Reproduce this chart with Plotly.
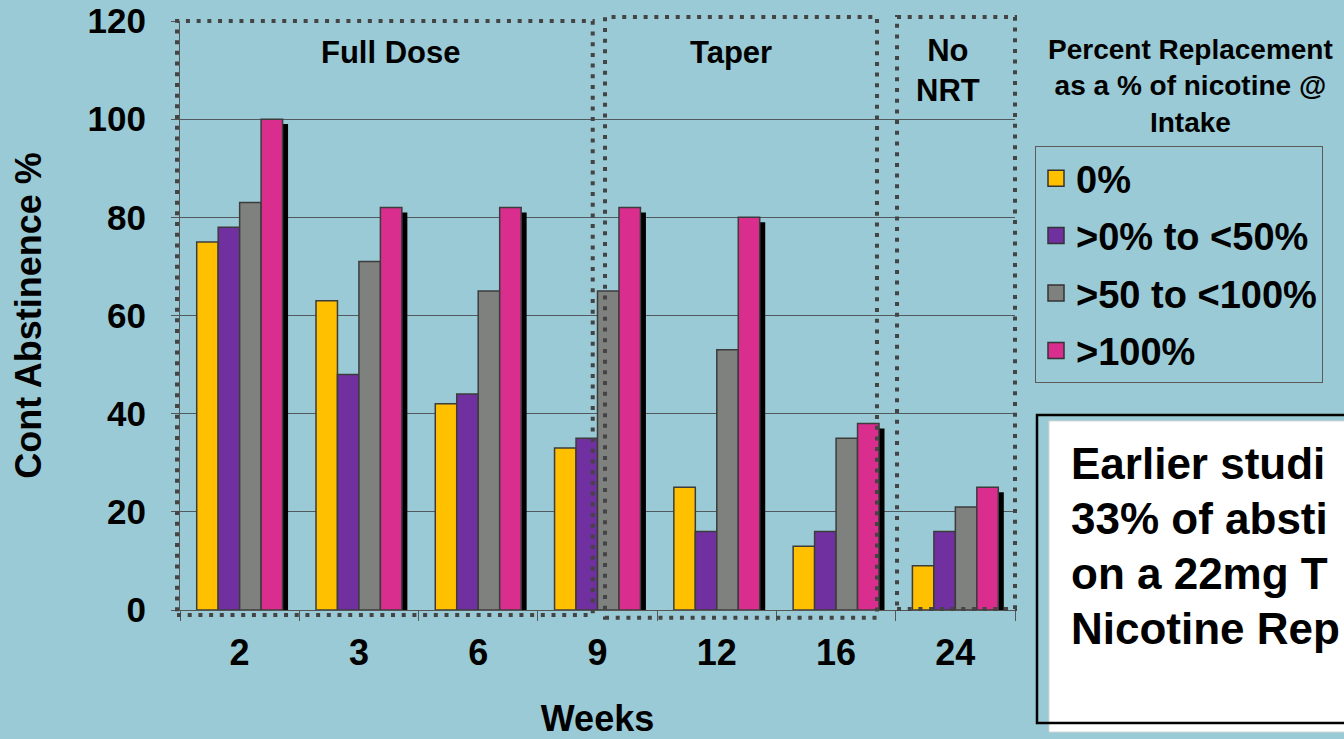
import plotly.graph_objects as go

# ---------------- data ----------------
weeks = ["2", "3", "6", "9", "12", "16", "24"]
series_names = ["0%", ">0% to <50%", ">50 to <100%", ">100%"]
pct_0 = [75, 63, 42, 33, 25, 13, 9]
pct_0_50 = [78, 48, 44, 35, 16, 16, 16]
pct_50_100 = [83, 71, 65, 65, 53, 35, 21]
pct_100 = [100, 82, 82, 82, 80, 38, 25]
y_ticks = [0, 20, 40, 60, 80, 100, 120]
phase_labels = ["Full Dose", "Taper", "No<br>NRT"]
legend_title = "Percent Replacement<br>as a % of nicotine @<br>Intake"
note_lines = ["Earlier studi", "33% of absti", "on a 22mg T", "Nicotine Rep"]

# ---------------- style ----------------
BG = "#9ACAD5"
colors = ["#FFC000", "#7030A0", "#7E817D", "#D92E8E"]
FONT = "Liberation Sans, Arial, sans-serif"
W, H = 1344, 739
ML, MR, MT, MB = 180, 329, 21, 129
PW, PH = W - ML - MR, H - MT - MB
XR = (-0.5, 6.5)
YR = (0, 120)


def px_x(px):
    return (px - ML) / PW


def px_y(py):
    return (H - MB - py) / PH


def dx(v):
    return (v - XR[0]) / (XR[1] - XR[0])


def dy(v):
    return (v - YR[0]) / (YR[1] - YR[0])


fig = go.Figure()

bar_w = 0.18
offsets = [-0.36, -0.18, 0.0, 0.18]
series = [pct_0, pct_0_50, pct_50_100, pct_100]

# shadow of the last series
fig.add_trace(go.Bar(x=weeks, y=pct_100, base=-1, offset=0.18 + 0.046, width=bar_w,
                     marker=dict(color="black", line=dict(width=0)),
                     showlegend=False, hoverinfo="skip"))

for name, vals, col, off in zip(series_names, series, colors, offsets):
    fig.add_trace(go.Bar(x=weeks, y=vals, name=name, offset=off, width=bar_w,
                         marker=dict(color=col, line=dict(color="#3C3C3C", width=1.5)),
                         showlegend=False))

# legend entries
for name, col in zip(series_names, colors):
    fig.add_trace(go.Scatter(x=[None], y=[None], mode="markers", name=name, legendgroup=name,
                             marker=dict(symbol="square", size=18, color=col,
                                         line=dict(color="#333333", width=1.5))))

# dotted phase panels (data units)
panels = [(-0.525, 2.96, -1.0, 120.0), (3.063, 5.343, -1.6, 120.8), (5.511, 6.5, 0.2, 120.8)]
shapes = []
for x0, x1, y0, y1 in panels:
    shapes.append(dict(type="rect", xref="paper", yref="paper",
                       x0=dx(x0), x1=dx(x1), y0=dy(y0), y1=dy(y1),
                       line=dict(color="#444444", width=4, dash="4px,6.7px"),
                       fillcolor="rgba(0,0,0,0)", layer="above"))

# note box
shapes.append(dict(type="rect", xref="paper", yref="paper",
                   x0=px_x(1049), x1=px_x(1420), y0=px_y(732), y1=px_y(421),
                   fillcolor="white", line=dict(color="#D5D5D5", width=1), layer="above"))
shapes.append(dict(type="rect", xref="paper", yref="paper",
                   x0=px_x(1037), x1=px_x(1420), y0=px_y(723), y1=px_y(415),
                   fillcolor="rgba(0,0,0,0)", line=dict(color="black", width=2.5), layer="above"))

annotations = []
for txt, xp, yp in zip(phase_labels, [391, 731, 948], [52, 52, 70]):
    annotations.append(dict(text=txt, xref="paper", yref="paper", x=px_x(xp), y=px_y(yp),
                            xanchor="center", yanchor="middle", showarrow=False,
                            font=dict(family=FONT, size=31, color="black", weight="bold")))
annotations.append(dict(text=legend_title, xref="paper", yref="paper", x=px_x(1190), y=px_y(86),
                        xanchor="center", yanchor="middle", showarrow=False,
                        font=dict(family=FONT, size=28, color="black", weight="bold")))
for txt, yp in zip(note_lines, [463, 518, 573, 628]):
    annotations.append(dict(text=txt, xref="paper", yref="paper", x=px_x(1069), y=px_y(yp),
                            xanchor="left", yanchor="middle", showarrow=False,
                            font=dict(family=FONT, size=44, color="black", weight="bold")))

fig.update_layout(
    width=W, height=H,
    margin=dict(l=ML, r=MR, t=MT, b=MB, autoexpand=False),
    paper_bgcolor=BG, plot_bgcolor=BG,
    barmode="overlay",
    font=dict(family=FONT, color="black"),
    shapes=shapes, annotations=annotations,
    legend=dict(x=px_x(1035), y=px_y(146), xanchor="left", yanchor="top",
                bgcolor="rgba(0,0,0,0)", bordercolor="#5A5A5A", borderwidth=1,
                font=dict(family=FONT, size=38, color="black", weight="bold"),
                tracegroupgap=5, itemwidth=30),
    xaxis=dict(type="category", categoryorder="array", categoryarray=weeks, range=list(XR),
               showgrid=False, showline=True, linecolor="#555555", linewidth=1,
               ticks="outside", tickson="boundaries", ticklen=10, tickcolor="#555555",
               tickfont=dict(family=FONT, size=36, color="black", weight="bold"),
               ticklabelstandoff=11,
               title=dict(text="Weeks", standoff=42,
                          font=dict(family=FONT, size=36, color="black", weight="bold"))),
    yaxis=dict(range=list(YR), tickvals=y_ticks, showgrid=True, gridcolor="#505A5E", gridwidth=1,
               showline=True, linecolor="#555555", linewidth=1, zeroline=False,
               ticks="outside", ticklen=8, tickcolor="#555555",
               tickfont=dict(family=FONT, size=35, color="black", weight="bold"),
               ticklabelstandoff=18,
               title=dict(text="Cont Abstinence %", standoff=34,
                          font=dict(family=FONT, size=36, color="black", weight="bold"))),
)

fig.write_html("out.html", config={"displayModeBar": False},
               post_script="document.body.style.margin='0';document.body.style.overflow='hidden';")
